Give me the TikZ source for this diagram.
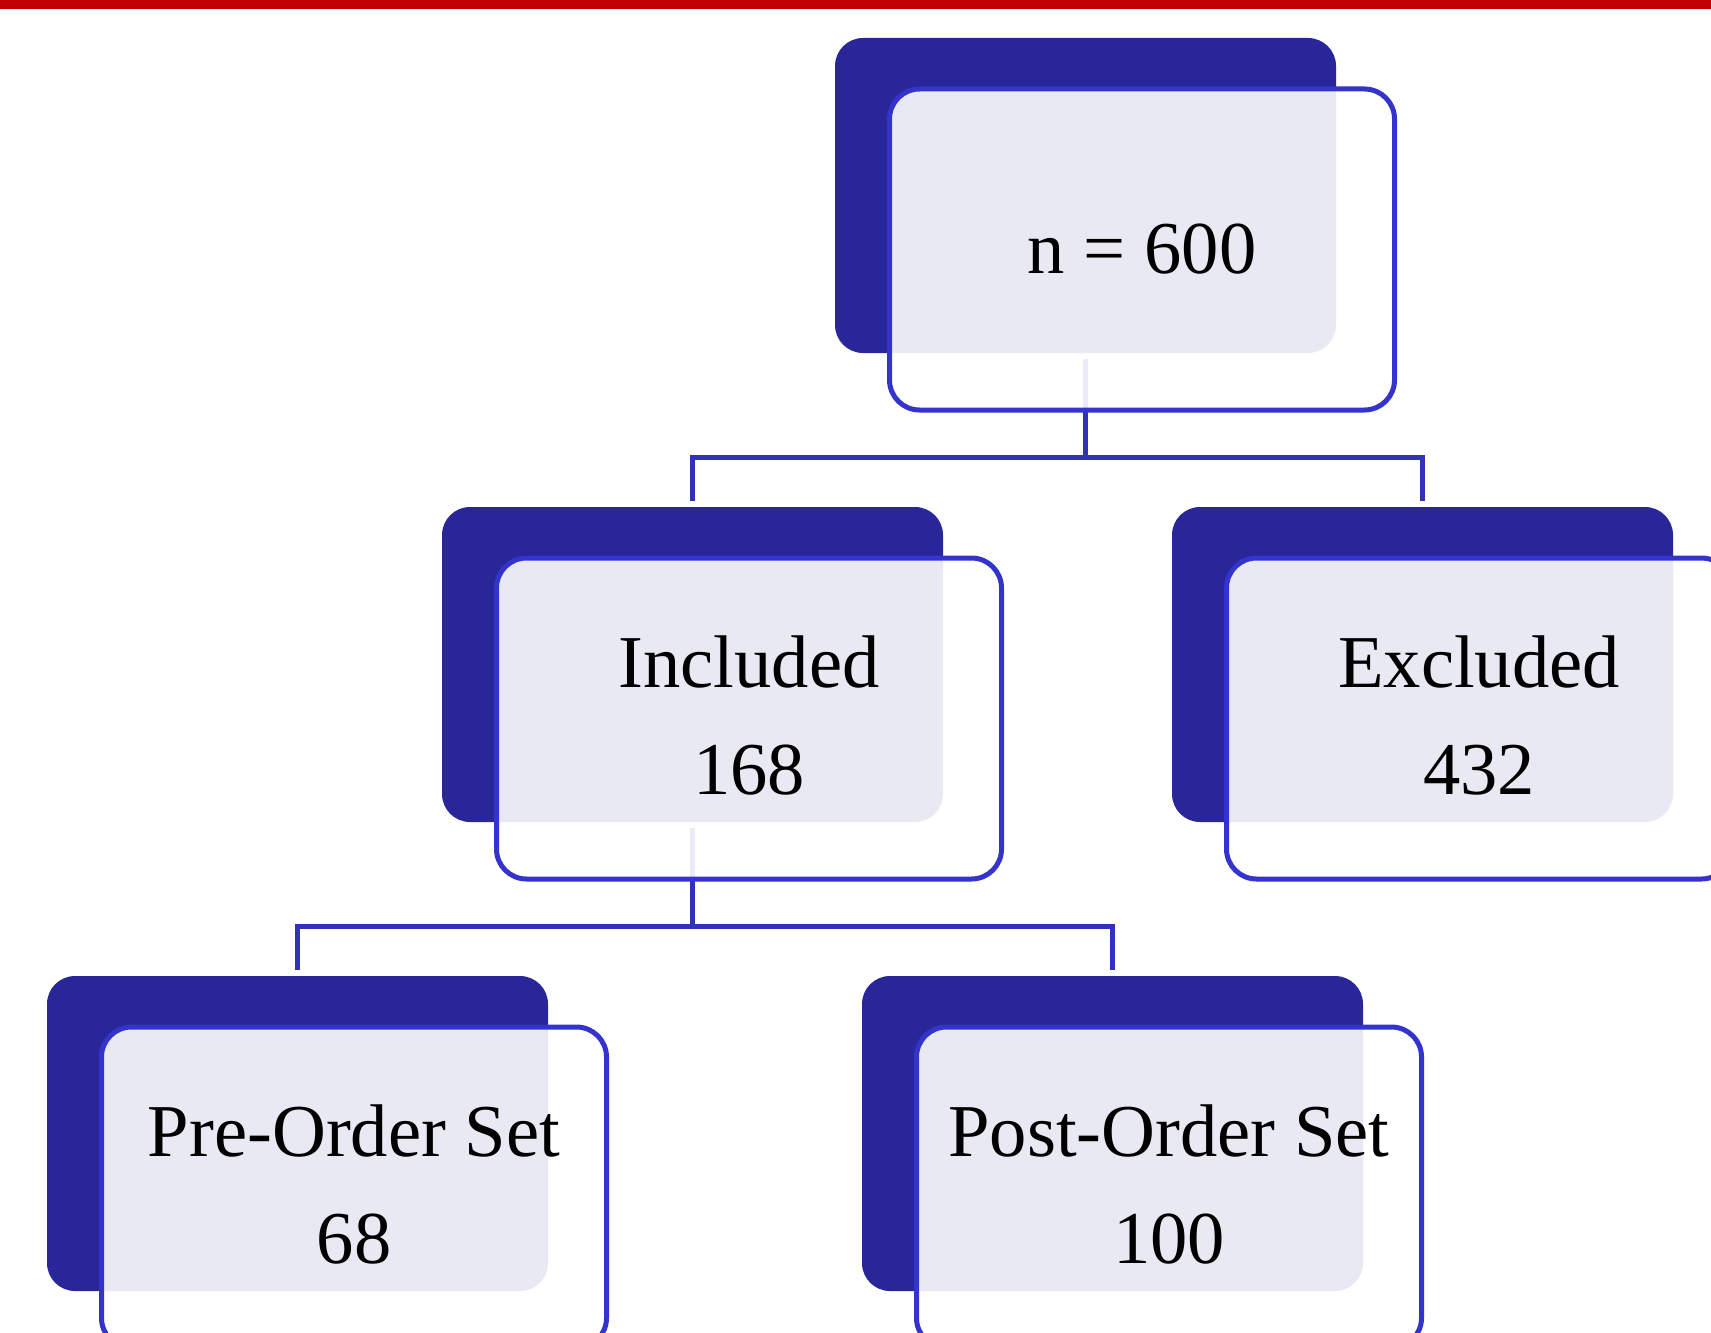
\documentclass[tikz,border=0pt]{standalone}
\usepackage{fontspec}
\setmainfont{Liberation Serif}
\usetikzlibrary{calc}
\definecolor{cDark}{RGB}{40,38,152}
\definecolor{cOutline}{RGB}{52,52,204}
\definecolor{cConn}{RGB}{50,50,184}
\definecolor{cRed}{RGB}{192,0,0}
\newcommand\mylowstrut{\rule[-3.3pt]{0pt}{3.3pt}}
\begin{document}
\begin{tikzpicture}[x=0.5pt,y=-0.5pt,
  shadowbox/.style={rectangle, rounded corners=14pt, fill=cDark, draw=none,
    minimum width=250.5pt, minimum height=157.5pt, inner sep=0pt, outer sep=0pt,
    anchor=north west},
  cardbox/.style={rectangle, rounded corners=15pt, draw=cOutline, line width=2.5pt,
    fill=white, fill opacity=0.9, draw opacity=1, text opacity=1,
    minimum width=252.5pt, minimum height=160.5pt, inner sep=0pt, outer sep=0pt,
    align=center, anchor=north west, font=\fontsize{37.3}{53.5}\selectfont},
  conn/.style={draw=cConn, line width=2.5pt}]
\clip (0,0) rectangle (1711,1332);
\fill[white] (0,0) rectangle (1711,1332);
\fill[cRed] (0,0) rectangle (1711,9.5);
% shadow boxes
\node[shadowbox] (d0) at (835,38) {};
\node[shadowbox] (d1) at (442,507) {};
\node[shadowbox] (d2) at (1172,507) {};
\node[shadowbox] (d3) at (47,976) {};
\node[shadowbox] (d4) at (862,976) {};
% connectors
\draw[conn] ($(d0.south)+(0,6)$) -- ($(d0.south)+(0,104)$) coordinate (j0);
\draw[conn] ($(d1.north)+(0,-6)$) |- (j0) -| ($(d2.north)+(0,-6)$);
\draw[conn] ($(d1.south)+(0,6)$) -- ($(d1.south)+(0,104)$) coordinate (j1);
\draw[conn] ($(d3.north)+(0,-6)$) |- (j1) -| ($(d4.north)+(0,-6)$);
% cards
\node[cardbox] (c0) at ($(d0.north west)+(54.5,51)$) {n = 600};
\node[cardbox] (c1) at ($(d1.north west)+(54.5,51)$) {Included\\168\mylowstrut};
\node[cardbox] (c2) at ($(d2.north west)+(54.5,51)$) {Excluded\\432\mylowstrut};
\node[cardbox] (c3) at ($(d3.north west)+(54.5,51)$) {Pre-Order Set\\68\mylowstrut};
\node[cardbox] (c4) at ($(d4.north west)+(54.5,51)$) {Post-Order Set\\100\mylowstrut};
\end{tikzpicture}
\end{document}
